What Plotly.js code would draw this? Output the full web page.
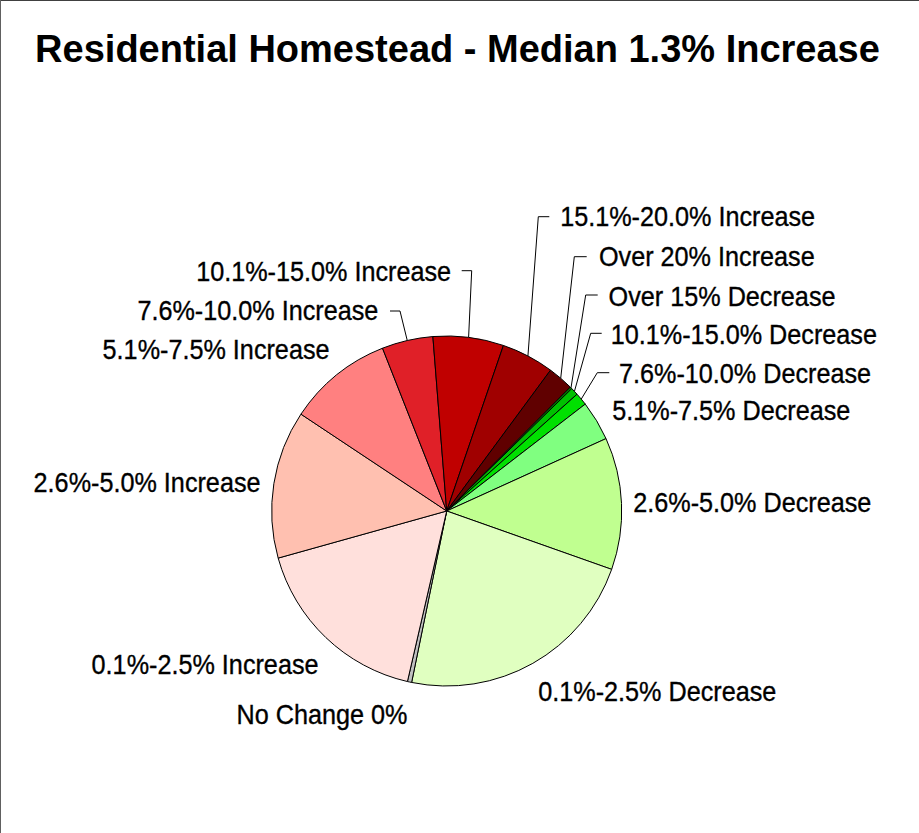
<!DOCTYPE html>
<html>
<head>
<meta charset="utf-8">
<script src="https://cdn.plot.ly/plotly-3.0.1.min.js"></script>
<style>
html,body{margin:0;padding:0;background:#fff;}
#chart{width:919px;height:833px;}
</style>
</head>
<body>
<div id="chart"></div>
<script>
// ---- data ----
var categories = [
  "Over 15% Decrease",
  "10.1%-15.0% Decrease",
  "7.6%-10.0% Decrease",
  "5.1%-7.5% Decrease",
  "2.6%-5.0% Decrease",
  "0.1%-2.5% Decrease",
  "No Change 0%",
  "0.1%-2.5% Increase",
  "2.6%-5.0% Increase",
  "5.1%-7.5% Increase",
  "7.6%-10.0% Increase",
  "10.1%-15.0% Increase",
  "15.1%-20.0% Increase",
  "Over 20% Increase"
];
var shares = [0.2, 0.7, 1.17, 3.67, 12.2, 22.8, 0.39, 17.06, 13.67, 9.69, 4.72, 6.51, 4.86, 2.36];
var sliceColors = [
  "#008000", "#00C000", "#00E000", "#80FF80", "#C0FF90", "#E0FFC0", "#C0C0C0",
  "#FFE0DC", "#FFC0B0", "#FF8080", "#E02028", "#C00000", "#A00000", "#600000"
];
var chartTitle = "Residential Homestead - Median 1.3% Increase";

// ---- layout helpers ----
var W = 919, H = 833;
var CX = 446.7, CY = 511, R = 175;
var ROT = 44.9;
var NARROW = 0.9;   // horizontal condensing of label text (narrow face not installed)
function px(x){ return x / W; }
function py(y){ return 1 - y / H; }

// mid-angle of each slice (clockwise from 12 o'clock), from the data
var total = shares.reduce(function(a,b){return a+b;}, 0);
var mids = [];
(function(){
  var a = ROT;
  for (var i = 0; i < shares.length; i++) {
    var w = shares[i] / total * 360;
    mids.push(a + w/2);
    a += w;
  }
})();
function edge(i){
  var t = mids[i] * Math.PI / 180;
  return [CX + R * Math.sin(t), CY - R * Math.cos(t)];
}

// label placement: [left x, right x, center y]
var labelPos = {
  "Over 15% Decrease":   [608, 836, 296],
  "10.1%-15.0% Decrease":[612, 876, 334],
  "7.6%-10.0% Decrease": [620, 870, 373],
  "5.1%-7.5% Decrease":  [612, 850, 411],
  "2.6%-5.0% Decrease":  [634, 870, 502],
  "0.1%-2.5% Decrease":  [539, 775, 691],
  "No Change 0%":        [236, 408, 714],
  "0.1%-2.5% Increase":  [91, 318, 664],
  "2.6%-5.0% Increase":  [33, 260, 482],
  "5.1%-7.5% Increase":  [103, 328, 349],
  "7.6%-10.0% Increase": [137, 379, 310],
  "10.1%-15.0% Increase":[195, 452, 272],
  "15.1%-20.0% Increase":[560, 815, 217],
  "Over 20% Increase":   [598, 815, 257]
};
// leader lines: [label-side x, elbow x, y]
var leaders = {
  "15.1%-20.0% Increase": [549.3, 538.3, 216.7],
  "Over 20% Increase":    [586.7, 574.3, 256.7],
  "Over 15% Decrease":    [597.7, 585.7, 295],
  "10.1%-15.0% Decrease": [601.7, 590.7, 333.3],
  "7.6%-10.0% Decrease":  [609.3, 597.3, 372.7],
  "7.6%-10.0% Increase":  [390, 400, 311],
  "10.1%-15.0% Increase": [461.7, 471.7, 270.7]
};

var labelFont = {family: "'Liberation Sans Narrow', 'Arial Narrow', 'Liberation Sans', Arial, sans-serif", size: 28, color: "#000"};

var annotations = categories.map(function(c){
  var p = labelPos[c];
  return {
    xref: "paper", yref: "paper", x: px((p[0] + p[1]) / 2), y: py(p[2]),
    xanchor: "center", yanchor: "middle", text: c, showarrow: false,
    font: labelFont, borderpad: 0
  };
});

var shapes = [];
categories.forEach(function(c, i){
  var L = leaders[c];
  if (!L) return;
  var e = edge(i);
  shapes.push({
    type: "path", xref: "paper", yref: "paper",
    path: "M " + px(L[0]) + "," + py(L[2]) + " L " + px(L[1]) + "," + py(L[2]) + " L " + px(e[0]) + "," + py(e[1]),
    line: {color: "#000", width: 1}
  });
});
// frame (top and left edges)
shapes.push({type:"line", xref:"paper", yref:"paper", x0:0, x1:1, y0:py(0.5), y1:py(0.5), line:{color:"#404040", width:1}});
shapes.push({type:"line", xref:"paper", yref:"paper", x0:px(0.5), x1:px(0.5), y0:0, y1:1, line:{color:"#606060", width:1}});

var trace = {
  type: "pie",
  labels: categories,
  values: shares,
  sort: false,
  direction: "clockwise",
  rotation: ROT,
  marker: {colors: sliceColors, line: {color: "#000", width: 1}},
  textinfo: "none",
  hoverinfo: "label+percent",
  showlegend: false,
  domain: {x: [px(CX - R), px(CX + R)], y: [py(CY + R), py(CY - R)]}
};

var layout = {
  width: W, height: H,
  margin: {l: 0, r: 0, t: 0, b: 0},
  paper_bgcolor: "#fff",
  title: {
    text: "<b>" + chartTitle + "</b>",
    x: px(457.5), xanchor: "center", y: py(49), yanchor: "middle",
    font: {family: "'Liberation Sans', Arial, sans-serif", size: 38, color: "#000"}
  },
  annotations: annotations,
  shapes: shapes,
  showlegend: false
};

Plotly.newPlot("chart", [trace], layout, {displayModeBar: false, staticPlot: true}).then(function(gd){
  gd.querySelectorAll("text.annotation-text").forEach(function(t){
    var w = t.getComputedTextLength();
    t.setAttribute("textLength", (w * NARROW).toFixed(1));
    t.setAttribute("lengthAdjust", "spacingAndGlyphs");
    t.style.stroke = "#000";
    t.style.strokeWidth = "0.35px";
  });
});
</script>
</body>
</html>
